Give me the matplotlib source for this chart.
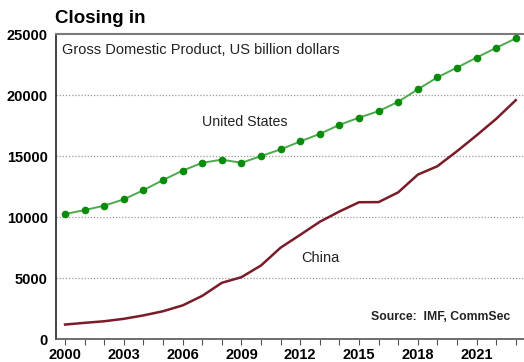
import matplotlib.pyplot as plt
import numpy as np

plt.rcParams["font.family"] = ["Liberation Sans", "DejaVu Sans"]

years = list(range(2000, 2024))

# GDP, US$ billion (IMF; later years are projections)
us_gdp = [10250, 10580, 10940, 11460, 12210, 13040, 13810, 14450, 14710, 14450,
          15000, 15550, 16200, 16820, 17560, 18150, 18680, 19450, 20470, 21450,
          22250, 23070, 23870, 24640]
china_gdp = [1200, 1340, 1470, 1670, 1950, 2290, 2770, 3550, 4620, 5080,
             6040, 7500, 8550, 9620, 10460, 11220, 11230, 12030, 13480, 14170,
             15400, 16700, 18050, 19580]

x_major = [2000, 2003, 2006, 2009, 2012, 2015, 2018, 2021]
y_ticks = [0, 5000, 10000, 15000, 20000, 25000]

fig = plt.figure(figsize=(5.24, 3.62), dpi=100)
ax = fig.add_axes([0.107, 0.063, 0.893, 0.843])

ax.plot(years, us_gdp, color="#4caa4c", lw=1.4, marker="o", ms=4.5,
        mfc="#0a8c0a", mec="#0a8c0a", zorder=3)
ax.plot(years, china_gdp, color="#7a1c28", lw=1.8, zorder=3)

ax.set_xlim(1999.54, 2023.42)
ax.set_ylim(0, 25000)
ax.set_yticks(y_ticks)
ax.set_xticks(years)
ax.set_xticklabels([str(y) if y in x_major else "" for y in years])

for lbl in ax.get_xticklabels() + ax.get_yticklabels():
    lbl.set_fontweight("bold")
    lbl.set_fontsize(10.5)

ax.tick_params(axis="y", length=0, pad=6)
ax.tick_params(axis="x", length=4, width=0.8, color="#555555", pad=2)

for y in y_ticks[1:-1]:
    ax.axhline(y, color="#9a9a9a", lw=0.9, ls=(0, (1, 1.5)), zorder=1)

ax.spines["right"].set_visible(False)
ax.spines["top"].set_color("#7a7a7a")
ax.spines["top"].set_linewidth(1.5)
ax.spines["left"].set_color("#222222")
ax.spines["left"].set_linewidth(1.2)
ax.spines["bottom"].set_color("#555555")
ax.spines["bottom"].set_linewidth(1.2)

fig.text(0.105, 0.95, "Closing in", fontsize=13.5, fontweight="bold",
         va="center", ha="left")
ax.text(1999.85, 23700, "Gross Domestic Product, US billion dollars",
        fontsize=10.5, va="center", ha="left", color="#222222")
ax.text(2009.17, 17830, "United States", fontsize=10.2, va="center",
        ha="center", color="#222222")
ax.text(2013.02, 6660, "China", fontsize=10.5, va="center", ha="center",
        color="#222222")
ax.text(2022.7, 1850, "Source:  IMF, CommSec", fontsize=8.8, fontweight="bold",
        va="center", ha="right", color="#222222")

fig.savefig("out.png", dpi=100)
